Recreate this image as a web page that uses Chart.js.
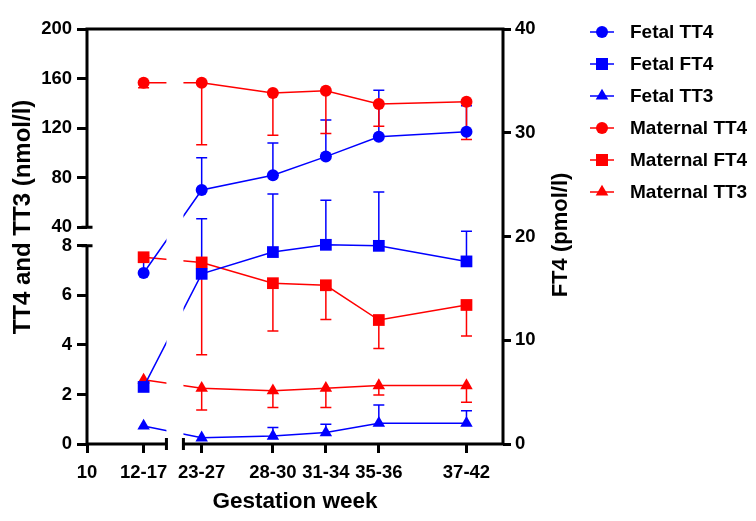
<!DOCTYPE html>
<html>
<head>
<meta charset="utf-8">
<script src="https://cdn.jsdelivr.net/npm/chart.js@4.4.1/dist/chart.umd.min.js"></script>
<style>
    body { margin: 0; background: #fff; }
    #wrap { width: 756px; height: 521px; }
</style>
</head>
<body>
<div id="wrap"><canvas id="thyroid-chart" width="756" height="521"></canvas></div>
<script>
// gestation groups and the mean week each one is plotted at
const groups = ['12-17', '23-27', '28-30', '31-34', '35-36', '37-42'];
const groupWeek = [13.1, 25.0, 28.9, 31.8, 34.7, 39.5];

// TT4 / TT3 in nmol/l (left, broken axis), FT4 in pmol/l (right axis)
const fetalTT4 = [6.9, 70, 82, 97, 113, 117];
const fetalTT4Sd = [0.7, 26, 26, 29.5, 37.5, 21];
const fetalFT4 = [5.5, 16.4, 18.5, 19.2, 19.1, 17.6];
const fetalFT4Sd = [0, 5.3, 5.6, 4.3, 5.2, 2.9];
const fetalTT3 = [0.73, 0.25, 0.32, 0.46, 0.84, 0.84];
const fetalTT3Sd = [0, 0, 0.35, 0.34, 0.73, 0.5];
const maternalTT4 = [156.6, 156.6, 148.3, 150.1, 139.5, 141.3];
const maternalTT4Sd = [4, 50, 34, 34.5, 18, 30.5];
const maternalFT4 = [18.0, 17.5, 15.5, 15.3, 11.95, 13.4];
const maternalFT4Sd = [0.4, 8.9, 4.6, 3.3, 2.75, 3.0];
const maternalTT3 = [2.59, 2.25, 2.15, 2.25, 2.36, 2.36];
const maternalTT3Sd = [0.1, 0.88, 0.68, 0.78, 0.38, 0.67];

const leftTicks = [0, 2, 4, 6, 8, 40, 80, 120, 160, 200];
const xTickWeeks = [10, ...groupWeek];
const xTickLabels = ['10', ...groups];

// axis breaks
const yBreak = [8, 40];
const yTop = 200;
const xBreak = [14.35, 24.0];
const xEnd = 41.5;

const BLUE = '#0000ff';
const RED = '#ff0000';
const FONT = "'Liberation Sans', Arial, sans-serif";

// map a value onto the continuous scale behind the broken axes
const Y_GAP = 0.75, Y_UPPER = 8;
function leftV(v) {
    return v <= yBreak[0] ? v : yBreak[0] + Y_GAP + (v - yBreak[1]) / (yTop - yBreak[1]) * Y_UPPER;
}
const X_GAP = 0.93;
function xV(w) {
    return w <= xBreak[0] ? w : w - xBreak[1] + xBreak[0] + X_GAP;
}

function makeSet(label, values, sds, dir, color, style, radius, axis) {
    return {
        label,
        raw: values,
        sd: sds,
        dir,
        yAxisID: axis,
        data: values.map((v, i) => ({ x: xV(groupWeek[i]), y: axis === 'y' ? leftV(v) : v })),
        borderColor: color,
        backgroundColor: color,
        borderWidth: 1.5,
        pointStyle: style,
        pointRadius: radius,
        pointHoverRadius: radius,
        pointBorderWidth: 0,
        pointBackgroundColor: color,
        tension: 0
    };
}

const datasets = [
    makeSet('Fetal TT4', fetalTT4, fetalTT4Sd, 1, BLUE, 'circle', 6, 'y'),
    makeSet('Fetal FT4', fetalFT4, fetalFT4Sd, 1, BLUE, 'rect', 8.3, 'y2'),
    makeSet('Fetal TT3', fetalTT3, fetalTT3Sd, 1, BLUE, 'triangle', 7.2, 'y'),
    makeSet('Maternal TT4', maternalTT4, maternalTT4Sd, -1, RED, 'circle', 6, 'y'),
    makeSet('Maternal FT4', maternalFT4, maternalFT4Sd, -1, RED, 'rect', 8.3, 'y2'),
    makeSet('Maternal TT3', maternalTT3, maternalTT3Sd, -1, RED, 'triangle', 7.2, 'y')
];

function valuePx(chart, ds, v) {
    return ds.yAxisID === 'y'
        ? chart.scales.y.getPixelForValue(leftV(v))
        : chart.scales.y2.getPixelForValue(v);
}

const errorBars = {
    id: 'errorBars',
    beforeDatasetsDraw(chart) {
        const ctx = chart.ctx;
        ctx.save();
        ctx.lineWidth = 1.5;
        chart.data.datasets.forEach((ds, i) => {
            const meta = chart.getDatasetMeta(i);
            ds.raw.forEach((v, j) => {
                if (!ds.sd[j]) return;
                const x = meta.data[j].x;
                const y0 = valuePx(chart, ds, v);
                const y1 = valuePx(chart, ds, v + ds.dir * ds.sd[j]);
                ctx.strokeStyle = ds.borderColor;
                ctx.beginPath();
                ctx.moveTo(x, y0);
                ctx.lineTo(x, y1);
                ctx.moveTo(x - 5.5, y1);
                ctx.lineTo(x + 5.5, y1);
                ctx.stroke();
            });
        });
        ctx.restore();
    }
};

function drawMarker(ctx, style, x, y, color) {
    ctx.fillStyle = color;
    ctx.beginPath();
    if (style === 'circle') {
        ctx.arc(x, y, 6, 0, Math.PI * 2);
    } else if (style === 'rect') {
        ctx.rect(x - 6, y - 6, 12, 12);
    } else {
        ctx.moveTo(x, y - 7.2);
        ctx.lineTo(x + 6.3, y + 3.6);
        ctx.lineTo(x - 6.3, y + 3.6);
        ctx.closePath();
    }
    ctx.fill();
}

const brokenAxes = {
    id: 'brokenAxes',
    afterDatasetsDraw(chart) {
        const ctx = chart.ctx;
        const { left, right, top, bottom } = chart.chartArea;
        const xs = chart.scales.x, ys = chart.scales.y;
        const gx0 = xs.getPixelForValue(xV(xBreak[0]));
        const gx1 = xs.getPixelForValue(xV(xBreak[1]));
        const gy0 = ys.getPixelForValue(leftV(yBreak[0]));
        const gy1 = ys.getPixelForValue(leftV(yBreak[1]));

        ctx.save();
        // blank the lines across the x break
        ctx.fillStyle = '#fff';
        ctx.fillRect(gx0, top + 2, gx1 - gx0, bottom - top);

        ctx.strokeStyle = '#000';
        ctx.lineWidth = 3;
        ctx.lineCap = 'butt';
        ctx.beginPath();
        // left axis, two pieces
        ctx.moveTo(left, bottom + 1.5); ctx.lineTo(left, gy0);
        ctx.moveTo(left - 5.5, gy0); ctx.lineTo(left + 5.5, gy0);
        ctx.moveTo(left, gy1); ctx.lineTo(left, top - 1.5);
        ctx.moveTo(left - 5.5, gy1); ctx.lineTo(left + 5.5, gy1);
        // top and right frame
        ctx.moveTo(left, top); ctx.lineTo(right, top);
        ctx.moveTo(right, top - 1.5); ctx.lineTo(right, bottom + 1.5);
        // bottom axis, two pieces
        ctx.moveTo(left, bottom); ctx.lineTo(gx0, bottom);
        ctx.moveTo(gx0, bottom - 6); ctx.lineTo(gx0, bottom + 6);
        ctx.moveTo(gx1, bottom); ctx.lineTo(right, bottom);
        ctx.moveTo(gx1, bottom - 6); ctx.lineTo(gx1, bottom + 6);
        ctx.stroke();
        ctx.restore();
    },
    afterDraw(chart) {
        const ctx = chart.ctx;
        ctx.save();
        ctx.fillStyle = '#000';
        ctx.textAlign = 'center';
        ctx.textBaseline = 'middle';

        ctx.font = `bold 22.5px ${FONT}`;
        ctx.fillText('Gestation week', 295, 502);

        ctx.save();
        ctx.translate(23, 217);
        ctx.rotate(-Math.PI / 2);
        ctx.font = `bold 24px ${FONT}`;
        ctx.fillText('TT4 and TT3 (nmol/l)', 0, 0);
        ctx.restore();

        ctx.save();
        ctx.translate(561, 235);
        ctx.rotate(-Math.PI / 2);
        ctx.font = `bold 22px ${FONT}`;
        ctx.fillText('FT4 (pmol/l)', 0, 0);
        ctx.restore();

        // legend
        ctx.font = `bold 19px ${FONT}`;
        ctx.textAlign = 'left';
        chart.data.datasets.forEach((ds, i) => {
            const y = 32 + i * 32;
            ctx.strokeStyle = ds.borderColor;
            ctx.lineWidth = 1.5;
            ctx.beginPath();
            ctx.moveTo(590, y);
            ctx.lineTo(614, y);
            ctx.stroke();
            drawMarker(ctx, ds.pointStyle, 602, y, ds.borderColor);
            ctx.fillStyle = '#000';
            ctx.fillText(ds.label, 630, y + 1);
        });
        ctx.restore();
    }
};

const tickFont = { family: FONT, weight: 'bold', size: 18.5 };
const tickGrid = (len) => ({
    display: true,
    drawOnChartArea: false,
    drawTicks: true,
    tickLength: len,
    lineWidth: 3,
    color: '#000'
});

new Chart(document.getElementById('thyroid-chart'), {
    type: 'line',
    data: { datasets },
    options: {
        responsive: false,
        animation: false,
        events: [],
        layout: { padding: { top: 29, left: 0, right: 0, bottom: 0 } },
        plugins: { legend: { display: false }, tooltip: { enabled: false } },
        scales: {
            x: {
                type: 'linear',
                min: 10,
                max: xV(xEnd),
                afterBuildTicks: scale => { scale.ticks = xTickWeeks.map(w => ({ value: xV(w) })); },
                afterFit: scale => { scale.height = 77; },
                ticks: {
                    autoSkip: false,
                    maxRotation: 0,
                    padding: 9,
                    color: '#000',
                    font: tickFont,
                    callback: (v, i) => xTickLabels[i]
                },
                grid: tickGrid(9),
                border: { display: false }
            },
            y: {
                type: 'linear',
                position: 'left',
                min: 0,
                max: leftV(yTop),
                afterBuildTicks: scale => { scale.ticks = leftTicks.map(v => ({ value: leftV(v) })); },
                afterFit: scale => { scale.width = 87; },
                ticks: {
                    autoSkip: false,
                    padding: 5,
                    color: '#000',
                    font: tickFont,
                    callback: (v, i) => String(leftTicks[i])
                },
                grid: tickGrid(10),
                border: { display: false }
            },
            y2: {
                type: 'linear',
                position: 'right',
                min: 0,
                max: 40,
                afterFit: scale => { scale.width = 253; },
                ticks: { stepSize: 10, padding: 4, color: '#000', font: tickFont },
                grid: tickGrid(8),
                border: { display: false }
            }
        }
    },
    plugins: [errorBars, brokenAxes]
});
</script>
</body>
</html>
